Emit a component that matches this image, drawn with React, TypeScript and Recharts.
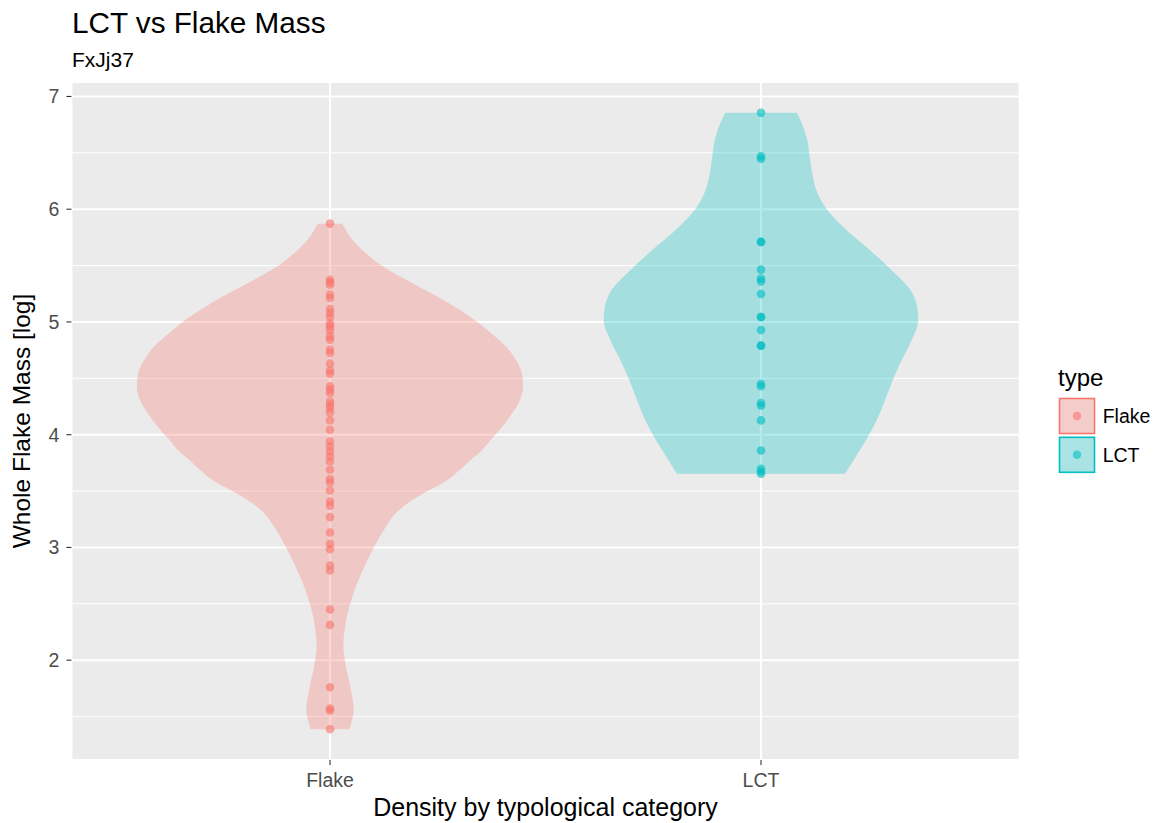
import React from 'react';
import { ComposedChart, Area, Scatter, XAxis, YAxis, CartesianGrid } from 'recharts';

// ---- data ----
const categories = ['Flake', 'LCT'];
const seriesColors = ['#F8766D', '#00BFC4'];
const yTicks = [2, 3, 4, 5, 6, 7];
const yMinorTicks = [1.5, 2.5, 3.5, 4.5, 5.5, 6.5];

// individual observations (log whole flake mass)
const flakeMass = [
  5.872, 5.375, 5.352, 5.331, 5.242, 5.213, 5.115, 5.08, 5.044, 4.985, 4.961, 4.925,
  4.872, 4.843, 4.754, 4.725, 4.63, 4.57, 4.541, 4.429, 4.399, 4.37, 4.295, 4.266,
  4.237, 4.198, 4.127, 4.044, 3.94, 3.896, 3.852, 3.807, 3.763, 3.689, 3.606, 3.576,
  3.505, 3.408, 3.37, 3.269, 3.133, 3.032, 2.985, 2.84, 2.795, 2.449, 2.313, 1.76,
  1.57, 1.553, 1.388,
];
const lctMass = [
  6.855, 6.47, 6.447, 5.71, 5.71, 5.464, 5.384, 5.36, 5.248, 5.044, 5.044, 4.929,
  4.79, 4.79, 4.45, 4.43, 4.281, 4.257, 4.127, 3.86, 3.698, 3.674, 3.653,
];

// violin outlines: mass levels and half-widths (in category units)
const flakeViolinY = [
  1.388, 1.47, 1.559, 1.766, 1.943, 2.121, 2.298, 2.476, 2.653, 2.831, 3.008, 3.186,
  3.334, 3.482, 3.571, 3.689, 3.778, 3.837, 3.955, 4.073, 4.192, 4.31, 4.428,
  4.547, 4.665, 4.783, 4.902, 5.02, 5.138, 5.257, 5.375, 5.493, 5.612, 5.73, 5.872,
];
const flakeViolinHalfWidth = [
  0.045, 0.051, 0.055, 0.047, 0.037, 0.031, 0.035, 0.045, 0.06, 0.08, 0.103, 0.13,
  0.161, 0.218, 0.262, 0.302, 0.327, 0.346, 0.373, 0.4, 0.423, 0.441, 0.448,
  0.445, 0.431, 0.408, 0.373, 0.335, 0.288, 0.234, 0.176, 0.122, 0.083, 0.052, 0.029,
];
const lctViolinY = [
  3.653, 3.807, 3.956, 4.133, 4.311, 4.488, 4.666, 4.843, 5.02, 5.139, 5.287, 5.464,
  5.642, 5.819, 5.997, 6.174, 6.292, 6.47, 6.618, 6.766, 6.855,
];
const lctViolinHalfWidth = [
  0.195, 0.22, 0.244, 0.269, 0.288, 0.306, 0.327, 0.35, 0.365, 0.362, 0.346, 0.302,
  0.251, 0.197, 0.153, 0.128, 0.12, 0.113, 0.107, 0.094, 0.083,
];

// ---- tables built from the arrays ----
const flakePos = categories.indexOf('Flake') + 1;
const lctPos = categories.indexOf('LCT') + 1;

const allY = Array.from(new Set([...flakeViolinY, ...lctViolinY])).sort((a, b) => a - b);
const violinRows = allY.map((y) => {
  const fi = flakeViolinY.indexOf(y);
  const li = lctViolinY.indexOf(y);
  return {
    y,
    flake: fi >= 0 ? [flakePos - flakeViolinHalfWidth[fi], flakePos + flakeViolinHalfWidth[fi]] : null,
    lct: li >= 0 ? [lctPos - lctViolinHalfWidth[li], lctPos + lctViolinHalfWidth[li]] : null,
  };
});
const flakePoints = flakeMass.map((v) => ({ x: flakePos, y: v }));
const lctPoints = lctMass.map((v) => ({ x: lctPos, y: v }));

const allMass = [...flakeMass, ...lctMass];
const dMin = Math.min(...allMass);
const dMax = Math.max(...allMass);
const pad = (dMax - dMin) * 0.05;
const yDomain = [dMin - pad, dMax + pad];
const xDomain = [0.4, categories.length + 0.6];

const FONT = '"Liberation Sans", Arial, Helvetica, sans-serif';

const makeDot = (color: string) => (props: any) => (
  <circle cx={props.cx} cy={props.cy} r={4.3} fill={color} fillOpacity={0.62} />
);

export default function App() {
  return (
    <div
      style={{
        position: 'absolute',
        left: 0,
        top: 0,
        width: 1155,
        height: 823,
        background: '#FFFFFF',
        fontFamily: FONT,
      }}
    >
      <ComposedChart
        width={1155}
        height={823}
        layout="vertical"
        data={violinRows}
        margin={{ top: 82, right: 135.4, bottom: 23, left: 11.4 }}
      >
        <CartesianGrid
          fill="#EBEBEB"
          fillOpacity={1}
          stroke="#FFFFFF"
          strokeWidth={1}
          vertical={false}
          horizontalValues={yMinorTicks}
        />
        <CartesianGrid stroke="#FFFFFF" strokeWidth={2.1} />
        <XAxis
          type="number"
          domain={xDomain}
          allowDataOverflow
          ticks={categories.map((_, i) => i + 1)}
          tickFormatter={(v: number) => categories[v - 1]}
          axisLine={false}
          tickLine={{ stroke: '#333333', strokeWidth: 1.1 }}
          tickSize={5}
          tickMargin={8}
          height={40}
          tick={{ fill: '#4D4D4D', fontSize: 19.5, fontFamily: FONT }}
        />
        <YAxis
          type="number"
          dataKey="y"
          domain={yDomain}
          allowDataOverflow
          reversed
          ticks={yTicks}
          axisLine={false}
          tickLine={{ stroke: '#333333', strokeWidth: 1.1 }}
          tickSize={5}
          tickMargin={7}
          width={60}
          tick={{ fill: '#4D4D4D', fontSize: 19.5, fontFamily: FONT }}
        />
        <Area
          dataKey="flake"
          type="monotone"
          fill={seriesColors[0]}
          fillOpacity={0.3}
          stroke="none"
          connectNulls
          isAnimationActive={false}
          activeDot={false}
          dot={false}
        />
        <Area
          dataKey="lct"
          type="monotone"
          fill={seriesColors[1]}
          fillOpacity={0.3}
          stroke="none"
          connectNulls
          isAnimationActive={false}
          activeDot={false}
          dot={false}
        />
        <Scatter data={flakePoints} dataKey="x" shape={makeDot(seriesColors[0])} isAnimationActive={false} />
        <Scatter data={lctPoints} dataKey="x" shape={makeDot(seriesColors[1])} isAnimationActive={false} />
      </ComposedChart>

      <svg
        width={1155}
        height={823}
        style={{ position: 'absolute', left: 0, top: 0, pointerEvents: 'none' }}
        fontFamily={FONT}
      >
        <text x={72} y={33.3} fontSize={29.7} fill="#000000">LCT vs Flake Mass</text>
        <text x={72} y={66.7} fontSize={21} fill="#000000">FxJj37</text>
        <text
          x={0}
          y={0}
          transform="translate(30,421) rotate(-90)"
          textAnchor="middle"
          fontSize={24.5}
          fill="#000000"
        >
          Whole Flake Mass [log]
        </text>
        <text x={545.5} y={816} textAnchor="middle" fontSize={25} fill="#000000">
          Density by typological category
        </text>

        <text x={1058} y={386} fontSize={24} fill="#000000">type</text>
        {categories.map((c, i) => {
          const top = 398.5 + i * 38.8;
          return (
            <g key={c}>
              <rect x={1059.5} y={top} width={35} height={35} fill="#F2F2F2" />
              <rect
                x={1059.5}
                y={top}
                width={35}
                height={35}
                fill={seriesColors[i]}
                fillOpacity={0.3}
                stroke={seriesColors[i]}
                strokeWidth={1.6}
              />
              <circle cx={1077} cy={top + 17.5} r={4.2} fill={seriesColors[i]} fillOpacity={0.6} />
              <text x={1102.7} y={top + 24.5} fontSize={19.5} fill="#000000">{c}</text>
            </g>
          );
        })}
      </svg>
    </div>
  );
}
